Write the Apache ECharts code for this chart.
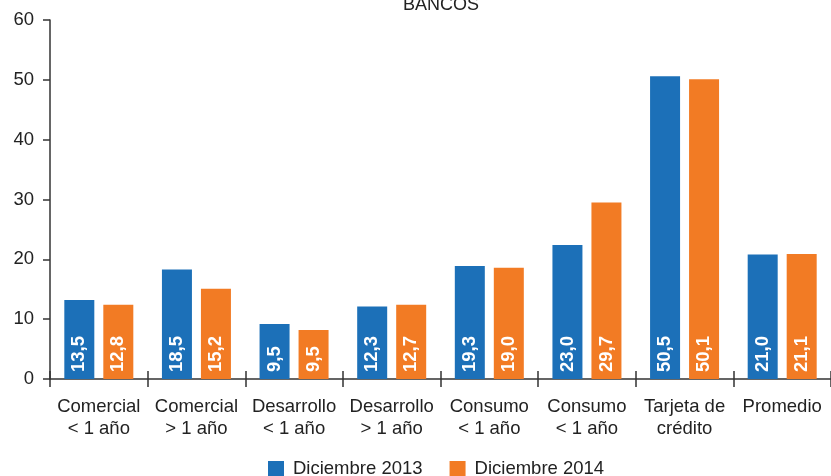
<!DOCTYPE html>
<html>
<head>
<meta charset="utf-8">
<script src="https://cdn.jsdelivr.net/npm/echarts@6/dist/echarts.min.js"></script>
<style>
html,body{margin:0;padding:0;background:#fff;}
#c{width:831px;height:476px;}
</style>
</head>
<body>
<div id="c"></div>
<script>
const categories = ["Comercial\n< 1 año", "Comercial\n> 1 año", "Desarrollo\n< 1 año", "Desarrollo\n> 1 año", "Consumo\n< 1 año", "Consumo\n< 1 año", "Tarjeta de\ncrédito", "Promedio"];
const seriesNames = ["Diciembre 2013", "Diciembre 2014"];
// bar heights as drawn in the picture
const values2013 = [13.2, 18.3, 9.2, 12.1, 18.9, 22.4, 50.6, 20.8];
const values2014 = [12.4, 15.1, 8.2, 12.4, 18.6, 29.5, 50.1, 20.9];
// data label texts as printed in the picture
const labels2013 = ["13,5", "18,5", "9,5", "12,3", "19,3", "23,0", "50,5", "21,0"];
const labels2014 = ["12,8", "15,2", "9,5", "12,7", "19,0", "29,7", "50,1", "21,1"];
const yTicks = [0, 10, 20, 30, 40, 50, 60];
const title = "BANCOS";

const FONT = "Liberation Sans";
const chart = echarts.init(document.getElementById('c'), null, {renderer: 'canvas'});

function barLabel(arr) {
  return {
    show: true,
    position: 'insideBottom',
    rotate: 90,
    align: 'left',
    verticalAlign: 'middle',
    distance: 7,
    color: '#fff',
    fontFamily: FONT,
    fontWeight: 'bold',
    fontSize: 18.5,
    formatter: p => arr[p.dataIndex]
  };
}

chart.setOption({
  animation: false,
  textStyle: {fontFamily: FONT},
  title: {
    text: title, left: 436, top: -9, textAlign: 'center',
    textStyle: {fontFamily: FONT, fontSize: 18, fontWeight: 'normal', color: '#222'}
  },
  legend: {
    left: 268, top: 459, padding: 0,
    itemWidth: 16, itemHeight: 15, itemGap: 27,
    icon: 'rect',
    data: seriesNames,
    textStyle: {fontFamily: FONT, fontSize: 18.5, color: '#222', padding: [0, 0, 0, 4]}
  },
  grid: {left: 50, right: -7, top: 20, bottom: 97, containLabel: false},
  xAxis: [{
    type: 'category',
    data: categories,
    position: 'bottom',
    boundaryGap: true,
    axisLine: {show: true, lineStyle: {color: '#333', width: 1.5}},
    axisTick: {show: true, length: 8, lineStyle: {color: '#333', width: 1.5}},
    axisLabel: {color: '#222', fontFamily: FONT, fontSize: 18.5, lineHeight: 22, margin: 17, interval: 0}
  }, {
    type: 'category',
    data: categories,
    position: 'bottom',
    boundaryGap: true,
    axisLine: {show: false},
    axisTick: {show: true, inside: true, length: 8, lineStyle: {color: '#333', width: 1.5}},
    axisLabel: {show: false}
  }],
  yAxis: {
    type: 'value',
    min: yTicks[0], max: yTicks[yTicks.length - 1], interval: 10,
    axisLine: {show: true, lineStyle: {color: '#333', width: 1.5}},
    axisTick: {show: true, length: 7, lineStyle: {color: '#333', width: 1.5}},
    axisLabel: {color: '#222', fontFamily: FONT, fontSize: 18.5, margin: 16},
    splitLine: {show: false}
  },
  series: [{
    name: seriesNames[0], type: 'bar', xAxisIndex: 0,
    data: values2013, barWidth: 30, barGap: '30%',
    itemStyle: {color: '#1c70b8'},
    label: barLabel(labels2013)
  }, {
    name: seriesNames[1], type: 'bar', xAxisIndex: 0,
    data: values2014, barWidth: 30, barGap: '30%',
    itemStyle: {color: '#f27b24'},
    label: barLabel(labels2014)
  }]
});
</script>
</body>
</html>
